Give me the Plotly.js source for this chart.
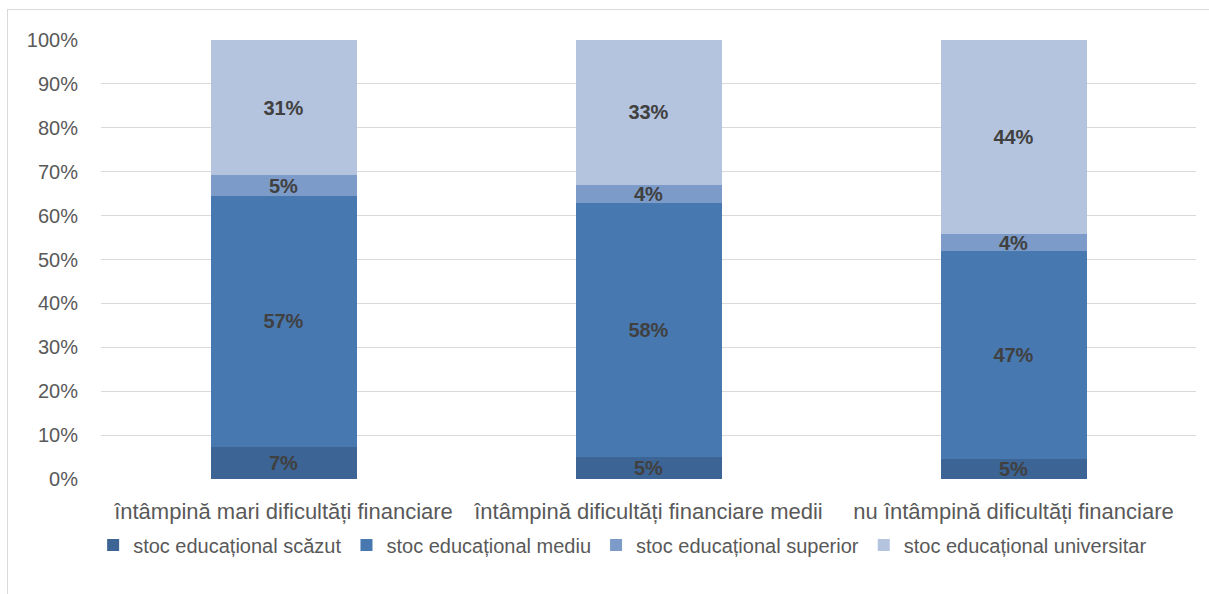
<!DOCTYPE html>
<html>
<head>
<meta charset="utf-8">
<script src="https://cdn.plot.ly/plotly-3.0.1.min.js"></script>
<style>
  html, body { margin: 0; padding: 0; background: #fff; overflow: hidden; }
  #frame { position: absolute; left: 7px; top: 9px; width: 1400px; height: 800px; border: 1px solid #d9d9d9; box-sizing: border-box; }
  #chart { position: absolute; left: 0; top: 0; width: 1209px; height: 594px; }
</style>
</head>
<body>
<div id="frame"></div>
<div id="chart"></div>
<script>
const categories = [
  "întâmpină mari dificultăți financiare",
  "întâmpină dificultăți financiare medii",
  "nu întâmpină dificultăți financiare"
];
const seriesNames = [
  "stoc educațional scăzut",
  "stoc educațional mediu",
  "stoc educațional superior",
  "stoc educațional universitar"
];
const scazut = [7.4, 5.0, 4.6];
const mediu = [57.0, 57.8, 47.3];
const superior = [4.8, 4.2, 3.8];
const universitar = [30.8, 33.0, 44.3];
const yTickVals = [0, 10, 20, 30, 40, 50, 60, 70, 80, 90, 100];
const yTickText = ["0%", "10%", "20%", "30%", "40%", "50%", "60%", "70%", "80%", "90%", "100%"];

const colors = ["#3c6494", "#4878b0", "#7c9bc8", "#b4c3de"];
const values = [scazut, mediu, superior, universitar];
const FONT = "Liberation Sans, Arial, sans-serif";

const traces = values.map((v, i) => ({
  type: "bar",
  name: seriesNames[i],
  x: categories,
  y: v,
  marker: { color: colors[i], line: { width: 0 } },
  text: v.map(val => Math.round(val) + "%"),
  texttemplate: "%{text}",
  textposition: "inside",
  insidetextanchor: "middle",
  textangle: 0,
  constraintext: "none",
  textfont: { family: FONT, size: 20, color: "#404040", weight: "bold" },
  hoverinfo: "skip"
}));

const layout = {
  width: 1209,
  height: 594,
  barmode: "stack",
  bargap: 0.6,
  paper_bgcolor: "rgba(0,0,0,0)",
  plot_bgcolor: "rgba(0,0,0,0)",
  margin: { l: 101, r: 13, t: 39.5, b: 114.5, pad: 0, autoexpand: false },
  font: { family: FONT, color: "#595959", size: 21 },
  xaxis: {
    type: "category",
    showgrid: false,
    zeroline: false,
    showline: false,
    ticks: "",
    tickangle: 0,
    automargin: false,
    ticklabelstandoff: 17,
    tickfont: { family: FONT, size: 22, color: "#595959" },
    fixedrange: true
  },
  yaxis: {
    range: [0, 100],
    tickvals: yTickVals,
    ticktext: yTickText,
    showgrid: true,
    gridcolor: "#d9d9d9",
    gridwidth: 1,
    zeroline: false,
    showline: false,
    ticks: "",
    automargin: false,
    ticklabelstandoff: 22,
    tickfont: { family: FONT, size: 20, color: "#595959" },
    fixedrange: true
  },
  showlegend: true,
  legend: {
    orientation: "h",
    xref: "container",
    x: 0.515,
    xanchor: "center",
    yref: "container",
    y: 49 / 594,
    yanchor: "middle",
    font: { family: FONT, size: 20, color: "#595959" },
    traceorder: "normal",
    itemwidth: 30,
    bgcolor: "rgba(0,0,0,0)"
  }
};

Plotly.newPlot("chart", traces, layout, { staticPlot: true, displayModeBar: false });
</script>
</body>
</html>
